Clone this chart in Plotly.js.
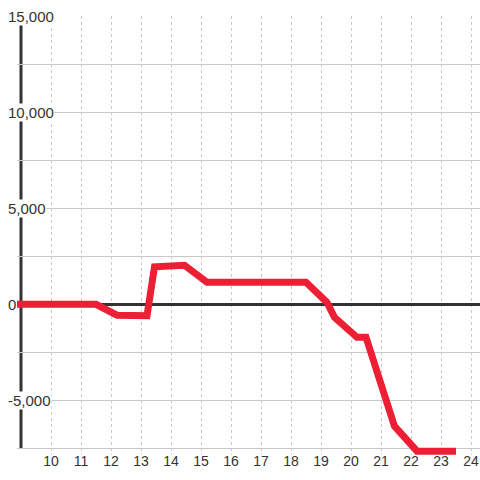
<!DOCTYPE html>
<html>
<head>
<meta charset="utf-8">
<script src="https://cdn.plot.ly/plotly-3.0.1.min.js"></script>
<style>html,body{margin:0;padding:0;background:#fff;}#chart{width:480px;height:480px;}</style>
</head>
<body>
<div id="chart"></div>
<script>
const xValues = [8.8, 11.5, 12.2, 13.2, 13.45, 14.45, 15.2, 18.5, 19.2, 19.45, 20.2, 20.5, 21.45, 22.2, 23.5];
const yValues = [0, 0, -570, -600, 1950, 2030, 1150, 1150, 100, -680, -1720, -1720, -6350, -7650, -7650];
const xTickVals = [10, 11, 12, 13, 14, 15, 16, 17, 18, 19, 20, 21, 22, 23, 24];
const xTickText = ['10', '11', '12', '13', '14', '15', '16', '17', '18', '19', '20', '21', '22', '23', '24'];
const yTickVals = [15000, 10000, 5000, 0, -5000];
const yTickText = ['15,000', '10,000', '5,000', '0', '-5,000'];

const trace = {
  x: xValues, y: yValues, type: 'scatter', mode: 'lines',
  line: {color: '#ED1F34', width: 7}, hoverinfo: 'skip'
};

const annotations = yTickVals.map((v, i) => ({
  xref: 'paper', yref: 'y', x: -10 / 463, y: v,
  xanchor: 'left', yanchor: 'middle', showarrow: false,
  text: yTickText[i], bgcolor: '#ffffff', borderpad: 0,
  font: {family: 'Liberation Sans, Arial, sans-serif', size: 15, color: '#333333'}
}));

const layout = {
  width: 480, height: 480,
  margin: {l: 17, r: 0, t: 16, b: 25},
  paper_bgcolor: '#ffffff', plot_bgcolor: '#ffffff',
  showlegend: false,
  xaxis: {
    range: [8.8667, 24.3], tickmode: 'array', tickvals: xTickVals, ticktext: xTickText,
    showgrid: true, gridcolor: '#c8c8c8', gridwidth: 1, griddash: 'dot',
    zeroline: false, showline: false, ticks: '', ticklabelstandoff: -4,
    tickfont: {family: 'Liberation Sans, Arial, sans-serif', size: 14, color: '#333333'}
  },
  yaxis: {
    range: [-7850, 15014], tickvals: [-7500, -5000, -2500, 0, 2500, 5000, 7500, 10000, 12500, 15000],
    showticklabels: false, showgrid: true, gridcolor: '#c8c8c8', gridwidth: 1,
    zeroline: true, zerolinecolor: '#333333', zerolinewidth: 3, showline: false, ticks: ''
  },
  shapes: [{
    type: 'line', xref: 'x', yref: 'y', x0: 9, x1: 9, y0: -7500, y1: 14580,
    line: {color: '#333333', width: 3}, layer: 'below'
  }],
  annotations: annotations
};

Plotly.newPlot('chart', [trace], layout, {displayModeBar: false, staticPlot: true});
</script>
</body>
</html>
